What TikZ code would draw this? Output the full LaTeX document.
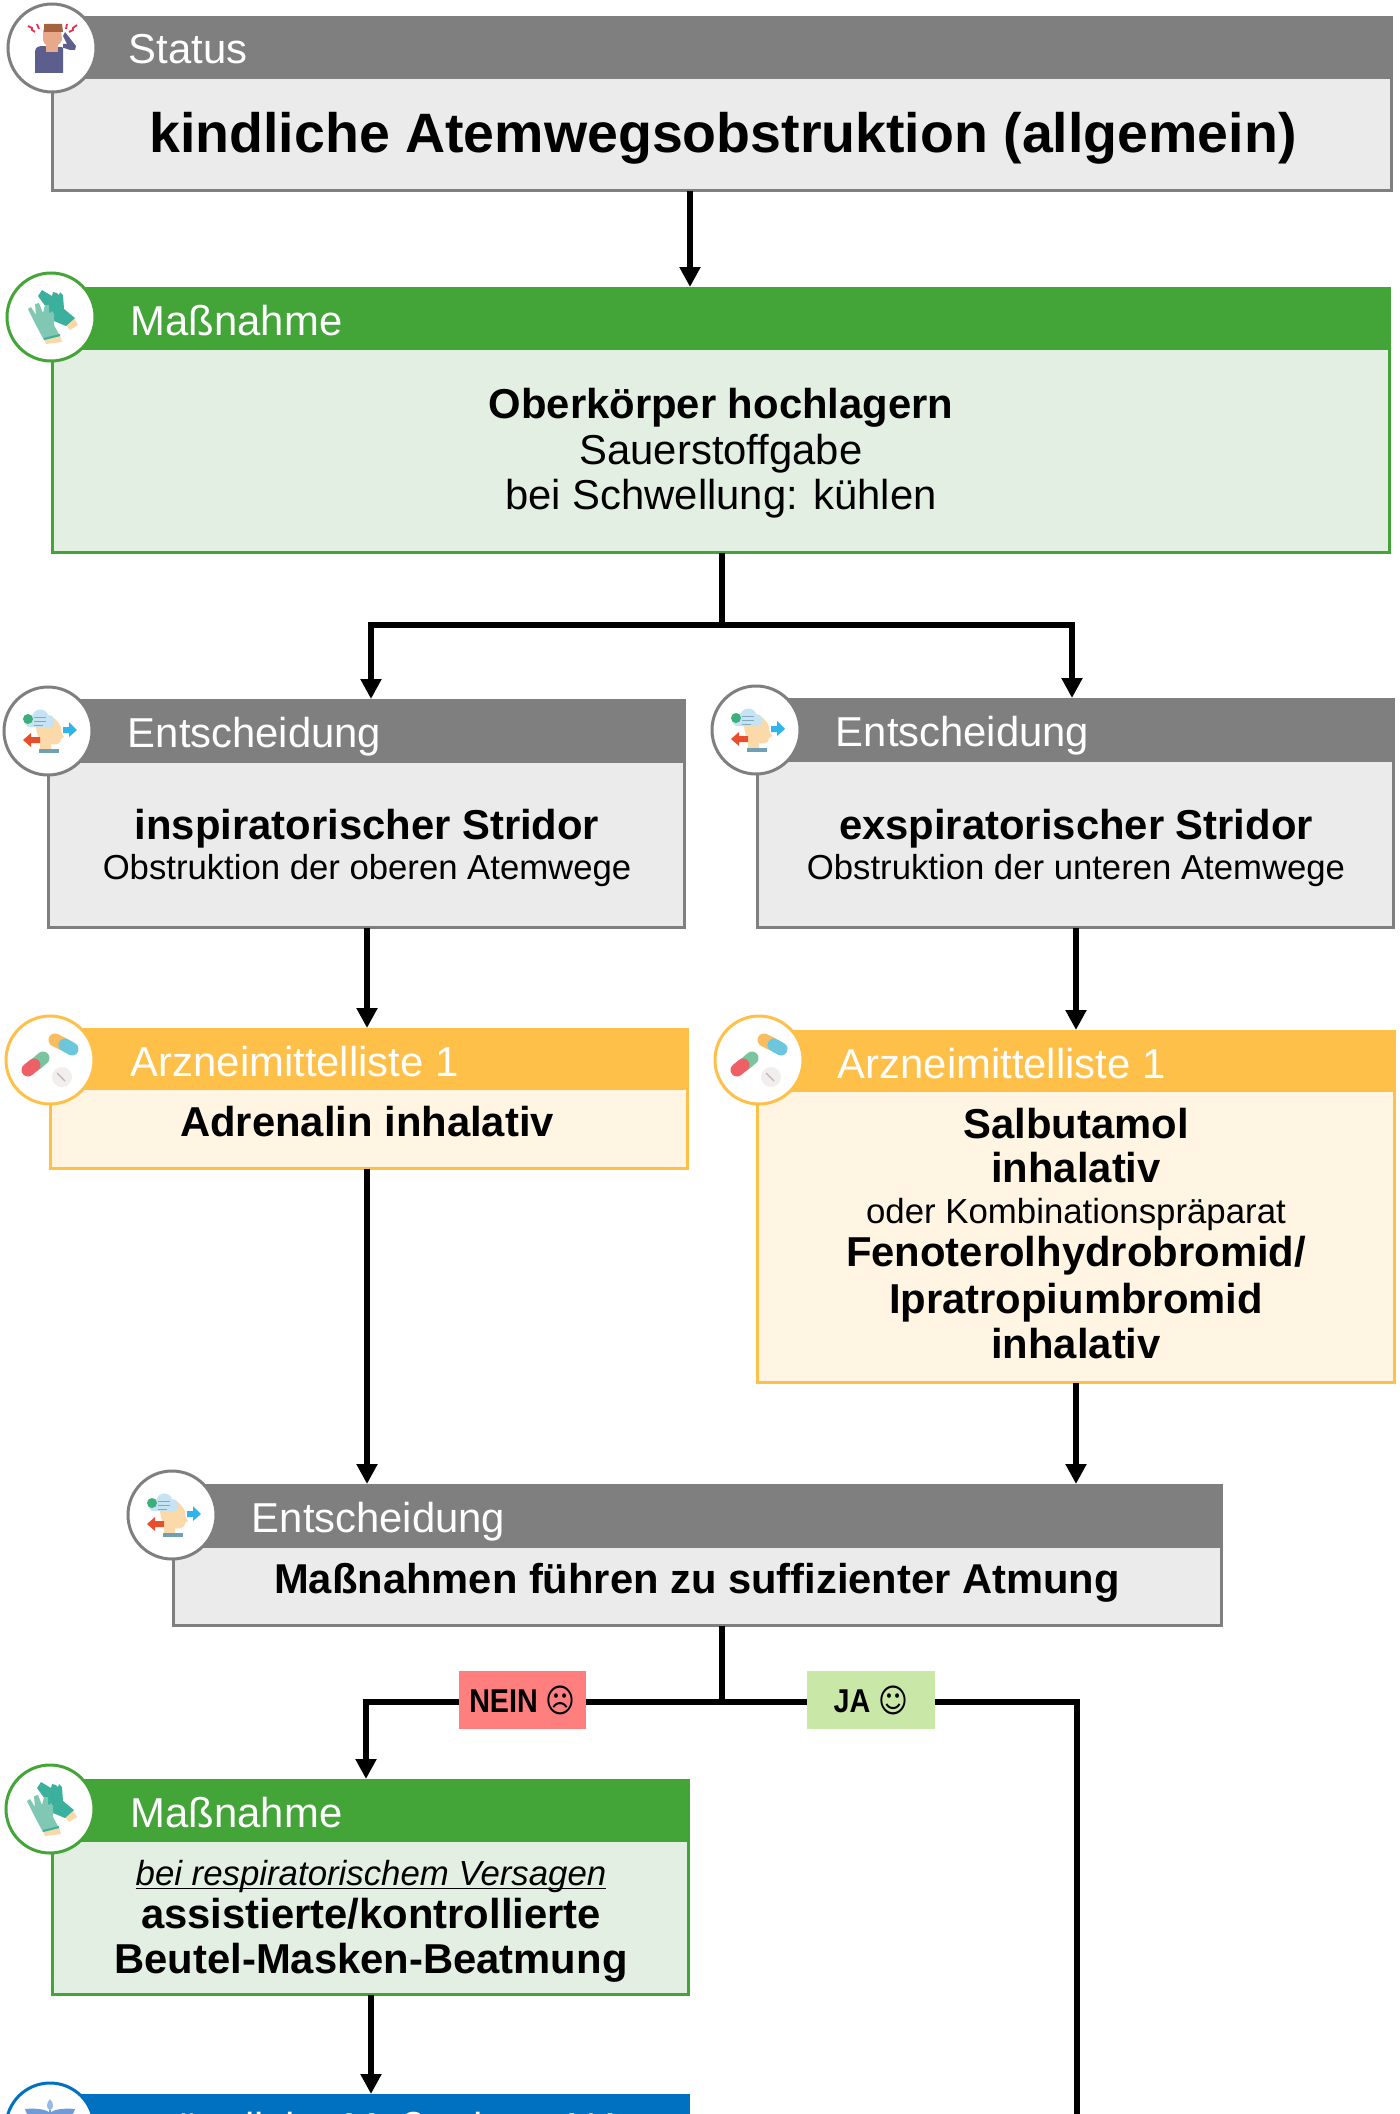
\documentclass[tikz,border=0pt]{standalone}
\usepackage{fontspec}
\setmainfont{Liberation Sans}
\newfontfamily\symf{DejaVu Sans}
\usetikzlibrary{arrows.meta}
\definecolor{cgray}{HTML}{7F7F7F}
\definecolor{lgray}{HTML}{EBEBEB}
\definecolor{cgreen}{HTML}{43A538}
\definecolor{lgreen}{HTML}{E2EFE2}
\definecolor{corange}{HTML}{FFC04A}
\definecolor{lorange}{HTML}{FFF5E2}
\definecolor{cblue}{HTML}{0070C0}
\definecolor{lblue}{HTML}{DDEBF7}
\definecolor{cnein}{HTML}{FF7F7F}
\definecolor{cja}{HTML}{C9E7A7}
\tikzset{
  x=0.5pt,y=-0.5pt,
  headbox/.style={rectangle,draw=none,inner sep=0pt,outer sep=0pt,anchor=north west},
  bodybox/.style={rectangle,line width=1.5pt,inner sep=0pt,outer sep=0pt,anchor=north west},
  titletext/.style={text=white,inner sep=0pt,anchor=base west,font=\fontsize{20.9}{24}\selectfont},
  bodytext/.style={inner sep=0pt,align=center,anchor=center},
  badge/.style={circle,fill=white,line width=1.5pt,minimum size=44pt,inner sep=0pt},
  flow/.style={line width=3pt,black,line join=miter},
  flowarrow/.style={flow,-{Triangle[width=10pt,length=10pt]}},
  tag/.style={rectangle,draw=none,inner sep=0pt,minimum height=29pt,font=\fontsize{16.5}{20}\selectfont\bfseries}
}
% name, x1, ytop, ymid, x2, ybot, colour, light colour, title
\newcommand{\panel}[9]{%
  \pgfmathsetlengthmacro{\pnlw}{(#5-#2)*0.5}%
  \pgfmathsetlengthmacro{\pnlh}{(#4-#3)*0.5}%
  \pgfmathsetlengthmacro{\pnbw}{(#5-#2-3)*0.5}%
  \pgfmathsetlengthmacro{\pnbh}{(#6-#4-1.5)*0.5}%
  \node[bodybox,draw=#7,fill=#8,minimum width=\pnbw,minimum height=\pnbh] (#1B) at ({#2+1.5},#4) {};
  \node[headbox,fill=#7,minimum width=\pnlw,minimum height=\pnlh] (#1H) at (#2,#3) {};
  \node[titletext] (#1L) at ({#2+79.5},{#3+48}) {#9};
}
\newcommand{\iconperson}[1]{\begin{scope}[shift={(#1)}]
  \fill[color={rgb,255:red,92;green,94;blue,142}] (-17,25) -- (-17,4) .. controls (-17,-2) and (-12,-2) .. (-8,-2) -- (-2,-1) -- (9,-1) -- (18,2) -- (23,2) -- (24,-2) -- (13,-16) -- (11,-12) -- (15,-4) -- (11,-4) -- (11,25) -- cycle;
  \fill[color={rgb,255:red,232;green,168;blue,138}] (-9,-18) -- (9,-18) -- (10,-8) .. controls (8,-3) and (4,-1) .. (0,-1) .. controls (-4,-1) and (-8,-3) .. (-9,-8) -- cycle;
  \fill[color={rgb,255:red,232;green,168;blue,138}] (-6,-8) rectangle (6,4);
  \fill[color={rgb,255:red,165;green,98;blue,62}] (-8,-24) -- (10,-24) -- (11,-16) -- (-8,-16) -- cycle;
  \draw[color={rgb,255:red,233;green,48;blue,79},line width=0.9pt] (-24,-22) -- (-20,-20) -- (-20,-18) -- (-17,-16) (-15,-24) -- (-13,-19);
  \draw[color={rgb,255:red,233;green,48;blue,79},line width=0.9pt] (25,-23) -- (21,-20) -- (21,-18) -- (17,-16) (15,-24) -- (14,-19);
\end{scope}}
\newcommand{\icongloves}[1]{\begin{scope}[shift={(#1)}]
  \fill[color={rgb,255:red,250;green,217;blue,168}] (14,7) -- (23,1) -- (27,8) -- (19,13) -- cycle;
  \fill[color={rgb,255:red,59;green,176;blue,157}] (-13,-21) -- (-9,-27) -- (1,-21) -- (2,-25) -- (6,-24) -- (8,-22) -- (9,-25) -- (12,-22) -- (13,-8) -- (24,1) -- (15,9) -- (3,4) -- (-5,-10) -- cycle;
  \fill[color={rgb,255:red,250;green,217;blue,168}] (-7,22) -- (9,18) -- (11,25) -- (-5,27) -- cycle;
  \fill[color={rgb,255:red,128;green,200;blue,180}] (-23,-8) -- (-20,-10) -- (-15,-2) -- (-16,-13) -- (-12,-14) -- (-8,-4) -- (-6,-12) -- (-2,-12) -- (-2,-3) -- (1,-6) -- (3,-3) -- (3,8) -- (9,19) -- (-7,23) -- (-14,10) -- cycle;
  \draw[color={rgb,255:red,59;green,176;blue,157},line width=1pt] (-7,22) -- (9,18);
\end{scope}}
\newcommand{\iconpills}[1]{\begin{scope}[shift={(#1)}]
  \draw[color={rgb,255:red,249;green,188;blue,96},line width=6.5pt,line cap=round] (5,-20) -- (13,-16);
  \draw[color={rgb,255:red,108;green,198;blue,220},line width=6.5pt,line cap=round] (15,-15) -- (22,-11);
  \draw[color={rgb,255:red,123;green,196;blue,160},line width=6.5pt,line cap=round] (-7,-2) -- (-14,4);
  \draw[color={rgb,255:red,238;green,95;blue,102},line width=6.5pt,line cap=round] (-16,5) -- (-22,10);
  \fill[color={rgb,255:red,243;green,238;blue,238}] (12,17) circle[radius=10];
  \draw[color={rgb,255:red,190;green,180;blue,180},line width=0.6pt] (7,13) -- (15,21);
\end{scope}}
\newcommand{\iconhead}[1]{\begin{scope}[shift={(#1)}]
  \fill[color={rgb,255:red,251;green,217;blue,168}] (-12,-8) .. controls (-12,-16) and (3,-18) .. (9,-10) .. controls (13,-5) and (14,-2) .. (13,0) -- (16,6) -- (13,8) .. controls (13,14) and (6,14) .. (3,13) -- (3,18) -- (-8,18) -- (-8,8) .. controls (-11,5) and (-12,0) .. (-12,-8) -- cycle;
  \fill[color={rgb,255:red,197;green,227;blue,243}] (-20,-4) .. controls (-26,-6) and (-24,-16) .. (-16,-15) .. controls (-13,-24) and (-2,-23) .. (0,-16) .. controls (6,-17) and (9,-8) .. (4,-4) -- cycle;
  \draw[color={rgb,255:red,130;green,170;blue,190},line width=0.5pt] (-14,-14) -- (-2,-14) (-14,-10) -- (-2,-10) (-14,-6) -- (-5,-6);
  \fill[color={rgb,255:red,61;green,175;blue,124}] (-20,-12) circle[radius=5];
  \fill[color={rgb,255:red,47;green,181;blue,233}] (15,-4) -- (21,-4) -- (21,-9) -- (29,-1) -- (21,6) -- (21,2) -- (15,2) -- cycle;
  \fill[color={rgb,255:red,232;green,78;blue,44}] (-8,6) -- (-17,6) -- (-17,2) -- (-25,9) -- (-17,16) -- (-17,12) -- (-8,12) -- cycle;
  \fill[color={rgb,255:red,111;green,160;blue,181}] (-9,18) rectangle (11,22);
\end{scope}}
\newcommand{\iconstaff}[1]{\begin{scope}[shift={(#1)}]
  \fill[color={rgb,255:red,111;green,155;blue,216}] (-25,-18) .. controls (-14,-19) and (-4,-18) .. (0,-14) .. controls (4,-18) and (14,-19) .. (25,-18) .. controls (23,-8) and (10,-6) .. (0,-4) .. controls (-10,-6) and (-23,-8) .. (-25,-18) -- cycle;
  \fill[color={rgb,255:red,150;green,185;blue,230}] (0,-28) .. controls (4,-24) and (4,-18) .. (0,-17) .. controls (-4,-18) and (-4,-24) .. (0,-28) -- cycle;
  \draw[color={rgb,255:red,111;green,155;blue,216},line width=1pt] (0,-17) -- (0,30);
\end{scope}}
\begin{document}
\begin{tikzpicture}[line cap=butt]
\path[use as bounding box,clip] (0,0) rectangle (1399,2114);
\fill[white] (0,0) rectangle (1399,2114);
% panels
\panel{st}{51}{16}{78}{1393}{192}{cgray}{lgray}{\hspace*{-1pt}Status}
\panel{mo}{51}{287}{348}{1391}{554}{cgreen}{lgreen}{Maßnahme}
\panel{el}{47}{699}{761}{686}{929}{cgray}{lgray}{\hspace*{0.5pt}Entscheidung}
\panel{er}{756}{698}{760}{1395}{929}{cgray}{lgray}{Entscheidung}
\panel{al}{49}{1028}{1088}{689}{1170}{corange}{lorange}{\hspace*{1pt}Arzneimittelliste 1}
\panel{ar}{756}{1030}{1090}{1396}{1384}{corange}{lorange}{\hspace*{1pt}Arzneimittelliste 1}
\panel{en}{172}{1484}{1546}{1223}{1627}{cgray}{lgray}{Entscheidung}
\panel{mt}{51}{1779}{1840}{690}{1996}{cgreen}{lgreen}{Maßnahme}
\panel{na}{51}{2094}{2156}{690}{2300}{cblue}{lblue}{\hspace*{-6.5pt}notärztliche Maßnahme NA}
% badges
\node[badge,draw=cgray] (stC) at (52,48) {}; \iconperson{52,48}
\node[badge,draw=cgreen] (moC) at (51,317) {}; \icongloves{51,317}
\node[badge,draw=cgray] (elC) at (48,731) {}; \iconhead{48,731}
\node[badge,draw=cgray] (erC) at (756,730) {}; \iconhead{756,730}
\node[badge,draw=corange] (alC) at (50,1060) {}; \iconpills{50,1060}
\node[badge,draw=corange] (arC) at (759,1060) {}; \iconpills{759,1060}
\node[badge,draw=cgray] (enC) at (172,1515) {}; \iconhead{172,1515}
\node[badge,draw=cgreen] (mtC) at (50,1809) {}; \icongloves{50,1809}
\node[badge,draw=cblue] (naC) at (50,2127) {}; \iconstaff{50,2127}
% body texts
\node[bodytext,font=\fontsize{27.75}{32}\selectfont\bfseries] (stT) at (723,138) {kindliche Atemwegsobstruktion (allgemein)};
\node[bodytext,font=\fontsize{20.9}{22.75}\selectfont] (moT) at (721,453.5) {\textbf{Oberkörper hochlagern}\\Sauerstoffgabe\\bei Schwellung: kühlen};
\node[bodytext,font=\fontsize{20.9}{19.7}\selectfont] (elT) at (367,848) {\textbf{inspiratorischer Stridor}\\{\fontsize{17.35}{19.7}\selectfont Obstruktion der oberen Atemwege}};
\node[bodytext,font=\fontsize{20.9}{19.7}\selectfont] (erT) at (1076,848) {\textbf{exspiratorischer Stridor}\\{\fontsize{17.35}{19.7}\selectfont Obstruktion der unteren Atemwege}};
\node[bodytext,font=\fontsize{20.9}{22}\selectfont\bfseries] (alT) at (367,1121.5) {Adrenalin inhalativ};
\node[bodytext,font=\fontsize{20.9}{22}\selectfont\bfseries] (arT) at (1076,1233.5) {Salbutamol\\inhalativ\\[-1.35pt]{\fontsize{17.4}{22}\selectfont\mdseries oder Kombinationspräparat}\\[-0.7pt]Fenoterolhydrobromid/\\[1.35pt]Ipratropiumbromid\\[0.7pt]inhalativ};
\node[bodytext,font=\fontsize{20.85}{22}\selectfont\bfseries] (enT) at (697,1582.5) {Maßnahmen führen zu suffizienter Atmung};
\node[bodytext,font=\fontsize{20.9}{22.75}\selectfont] (mtT) at (371,1934) {{\fontsize{17.4}{22.75}\selectfont\itshape\underline{\smash{bei respiratorischem Versagen}}}\\[-1.2pt]\textbf{assistierte/kontrollierte}\\\textbf{Beutel-Masken-Beatmung}};
% tags
\node[tag,fill=cnein,minimum width=63.5pt] (nein) at (522.5,1700) {\scalebox{0.87}[1]{NEIN {\symf\mdseries ☹}}};
\node[tag,fill=cja,minimum width=64pt] (ja) at (871,1700) {\scalebox{0.87}[1]{JA {\symf\mdseries ☺}}};
% connector helpers
\coordinate (xa) at (690,0);
\coordinate (split) at (722,625);
\coordinate (xl) at (371,0);
\coordinate (xr) at (1072,0);
\coordinate (dl) at (367,0);
\coordinate (dr) at (1076,0);
\coordinate (join) at (722,1702);
\coordinate (xn) at (366,0);
\coordinate (off) at (1077,2130);
% connectors
\draw[flowarrow] (stB.south -| xa) -- (moH.north -| xa);
\draw[flow] (moB.south -| split) -- (split);
\draw[flowarrow] (split) -| (elH.north -| xl);
\draw[flowarrow] (split) -| (erH.north -| xr);
\draw[flowarrow] (elB.south -| dl) -- (alH.north -| dl);
\draw[flowarrow] (erB.south -| dr) -- (arH.north -| dr);
\draw[flowarrow] (alB.south -| dl) -- (enH.north -| dl);
\draw[flowarrow] (arB.south -| dr) -- (enH.north -| dr);
\draw[flow] (enB.south -| join) -- (join);
\draw[flow] (join) -- (join -| nein.east);
\draw[flow] (join) -- (join -| ja.west);
\draw[flowarrow] (join -| nein.west) -| (mtH.north -| xn);
\draw[flow] (join -| ja.east) -| (off);
\draw[flowarrow] (mtB.south -| xl) -- (naH.north -| xl);
\end{tikzpicture}
\end{document}
